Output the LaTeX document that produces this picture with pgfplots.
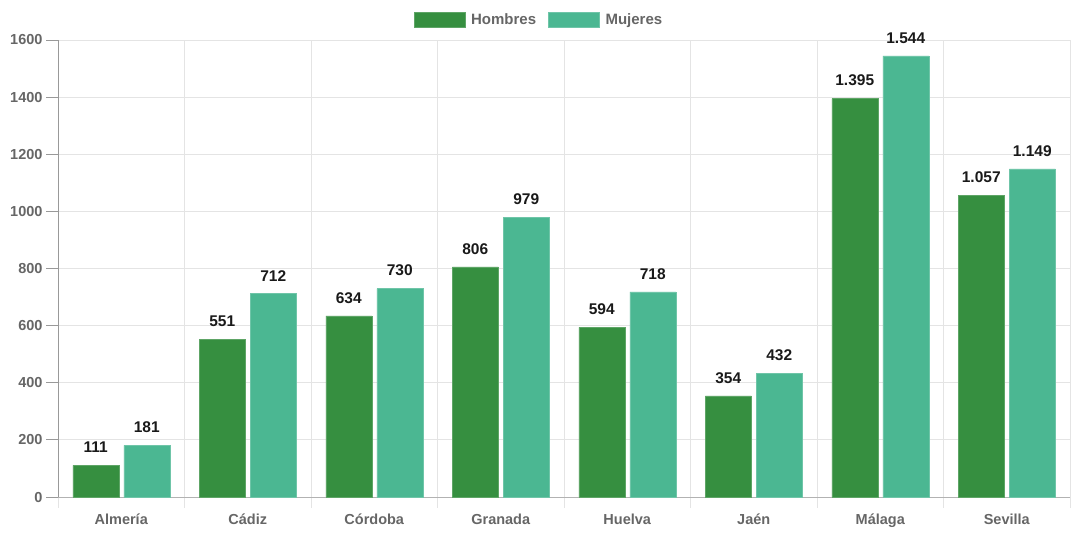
\documentclass[border=0pt]{standalone}
\usepackage{pgfplots}
\pgfplotsset{compat=1.18}
\usepackage{fontspec}
\setmainfont{Liberation Sans}
\definecolor{hom}{RGB}{54,143,64}
\definecolor{muj}{RGB}{75,183,146}
\definecolor{txt}{RGB}{102,102,102}
\definecolor{grd}{RGB}{228,228,228}
\begin{document}
\begin{tikzpicture}
\begin{axis}[
  name=ax,
  scale only axis,
  width=1012pt, height=457pt,
  xmin=-0.5, xmax=7.5,
  ymin=0, ymax=1600,
  ytick={0,200,...,1600},
  xtick={0,...,7},
  xticklabels={Almería,Cádiz,Córdoba,Granada,Huelva,Jaén,Málaga,Sevilla},
  minor xtick={-0.5,0.5,...,7.5},
  xminorgrids, ymajorgrids,
  grid style={grd, line width=0.8pt},
  minor grid style={grd, line width=0.8pt},
  tick align=outside,
  major tick length=12pt,
  minor tick length=11pt,
  major x tick style={draw=none},
  minor x tick style={grd, line width=0.8pt},
  ytick style={color=black!40, line width=0.8pt},
  axis x line*=bottom, axis y line*=left,
  x axis line style={black!30, line width=1pt},
  y axis line style={black!40, line width=1pt},
  /pgf/number format/assume math mode=true,
  /pgf/number format/1000 sep={},
  ticklabel style={font=\fontsize{14.5}{17}\selectfont\bfseries, text=txt},
  xticklabel style={yshift=-1pt},
  ybar=5pt, bar width=46pt,
  nodes near coords={\pgfmathprintnumber[1000 sep={.}]{\pgfplotspointmeta}},
  every node near coord/.append style={font=\fontsize{15.5}{18}\selectfont\bfseries, text=black!90, yshift=9pt},
  legend columns=2,
  legend style={at={(0.5,1)}, anchor=center, xshift=-25pt, yshift=20pt, draw=none, fill=none,
    font=\fontsize{15}{18}\selectfont\bfseries, text=txt,
    /tikz/every odd column/.append style={column sep=4pt},
    /tikz/every even column/.append style={column sep=10pt}},
  legend image code/.code={\fill[#1] (0pt,-7.5pt) rectangle (51pt,7.5pt);},
]
\addplot[fill=hom, draw=hom!80!white] coordinates {(0,111) (1,551) (2,634) (3,806) (4,594) (5,354) (6,1395) (7,1057)};
\addplot[fill=muj, draw=muj!80!white] coordinates {(0,181) (1,712) (2,730) (3,979) (4,718) (5,432) (6,1544) (7,1149)};
\legend{Hombres, Mujeres}
\end{axis}
\pgfresetboundingbox
\path ([xshift=-58pt,yshift=-54pt]ax.south west) rectangle ([xshift=1pt,yshift=40pt]ax.north east);
\end{tikzpicture}
\end{document}
